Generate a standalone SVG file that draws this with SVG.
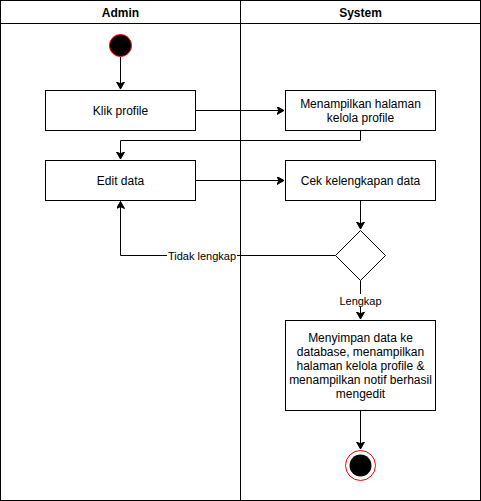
<svg xmlns="http://www.w3.org/2000/svg" width="481" height="501" viewBox="0 0 481 501">
<style>
.lane{fill:none;stroke:#000;stroke-width:1}
.box{fill:#fff;stroke:#000;stroke-width:1}
.t{font-family:"Liberation Sans",Arial,sans-serif;font-size:12px;fill:#000;text-anchor:middle}
.h{font-weight:bold}
.c{fill:none;stroke:#000;stroke-width:1}
.lbl{font-family:"Liberation Sans",Arial,sans-serif;font-size:11px;fill:#000;text-anchor:middle}
</style>
<defs>
<marker id="arr" markerWidth="10" markerHeight="10" refX="7" refY="4" orient="auto" markerUnits="userSpaceOnUse">
<path d="M0,0 L7,4 L0,8 L1.8,4 Z" fill="#000" stroke="#000" stroke-width="1"/>
</marker>
</defs>
<g id="pool">
<rect class="lane" x="0.5" y="0.5" width="480" height="500"/>
<line class="lane" x1="0.5" y1="23.5" x2="480.5" y2="23.5"/>
<line class="lane" x1="240.5" y1="0.5" x2="240.5" y2="500.5"/>
<text class="t h" x="120.5" y="16.5">Admin</text>
<text class="t h" x="360.5" y="16.5">System</text>
</g>
<g id="connectors">
<path class="c" d="M120.5,57 L120.5,89" marker-end="url(#arr)"/>
<path class="c" d="M195.5,110.5 L284,110.5" marker-end="url(#arr)"/>
<path class="c" d="M360.5,130.5 L360.5,140.5 L120.5,140.5 L120.5,159" marker-end="url(#arr)"/>
<path class="c" d="M195.5,180.5 L284,180.5" marker-end="url(#arr)"/>
<path class="c" d="M360.5,200.5 L360.5,229" marker-end="url(#arr)"/>
<path class="c" d="M335.5,255.5 L120.5,255.5 L120.5,201.5" marker-end="url(#arr)"/>
<path class="c" d="M360.5,280.5 L360.5,319" marker-end="url(#arr)"/>
<path class="c" d="M360.5,410.5 L360.5,449" marker-end="url(#arr)"/>
<rect x="167" y="249" width="70" height="13" fill="#fff"/>
<text class="lbl" x="202" y="259.5">Tidak lengkap</text>
<rect x="339" y="294" width="43" height="13" fill="#fff"/>
<text class="lbl" x="360.5" y="304.5">Lengkap</text>
</g>
<g id="start">
<circle cx="120.5" cy="45.5" r="11" fill="#000" stroke="#ff0000" stroke-width="1"/>
</g>
<g id="klik">
<rect class="box" x="45.5" y="90.5" width="150" height="40"/>
<text class="t" x="120.5" y="114.5">Klik profile</text>
</g>
<g id="menampilkan">
<rect class="box" x="285.5" y="90.5" width="150" height="40"/>
<text class="t" x="360.5" y="108">Menampilkan halaman</text>
<text class="t" x="360.5" y="122">kelola profile</text>
</g>
<g id="edit">
<rect class="box" x="45.5" y="160.5" width="150" height="40"/>
<text class="t" x="120.5" y="184.5">Edit data</text>
</g>
<g id="cek">
<rect class="box" x="285.5" y="160.5" width="150" height="40"/>
<text class="t" x="360.5" y="184.5">Cek kelengkapan data</text>
</g>
<g id="decision">
<path class="box" d="M360.5,230.5 L385.5,255.5 L360.5,280.5 L335.5,255.5 Z"/>
</g>
<g id="simpan">
<rect class="box" x="285.5" y="320.5" width="150" height="90"/>
<text class="t" x="360.5" y="342">Menyimpan data ke</text>
<text class="t" x="360.5" y="356">database, menampilkan</text>
<text class="t" x="360.5" y="370">halaman kelola profile &amp;</text>
<text class="t" x="360.5" y="384">menampilkan notif berhasil</text>
<text class="t" x="360.5" y="398">mengedit</text>
</g>
<g id="end">
<circle cx="360.5" cy="465.5" r="15" fill="#fff" stroke="#ff0000" stroke-width="1"/>
<circle cx="360.5" cy="465.5" r="11" fill="#000"/>
</g>
</svg>
